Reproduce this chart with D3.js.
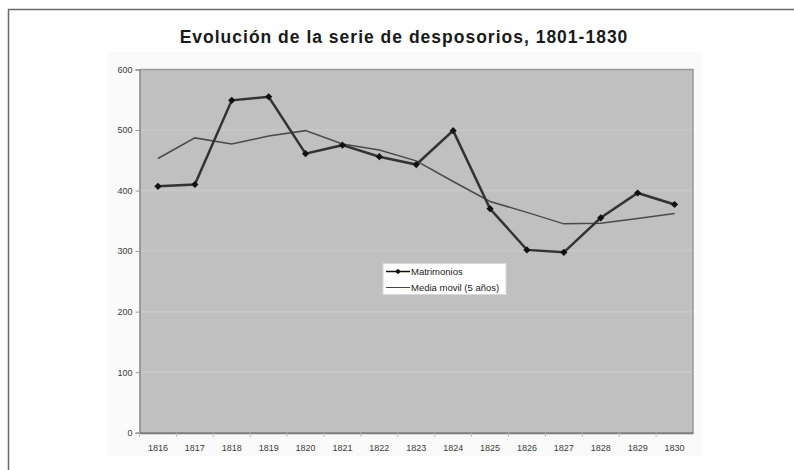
<!DOCTYPE html>
<html>
<head>
<meta charset="utf-8">
<script src="https://cdn.jsdelivr.net/npm/d3@7"></script>
<style>
  body { margin: 0; background: #fff; }
  svg { display: block; font-family: "Liberation Sans", Arial, sans-serif; }
</style>
</head>
<body>
<svg id="chart" width="794" height="470"></svg>
<script>
const years = ["1816", "1817", "1818", "1819", "1820", "1821", "1822", "1823",
  "1824", "1825", "1826", "1827", "1828", "1829", "1830"]
const matrimonios = [407, 410, 549, 555, 461, 475, 456, 443, 499, 370, 302, 298, 355, 396, 377]
const mediaMovil = [453, 487, 477, 490, 499, 477, 467, 449, 415, 382, 364, 345, 346, 354, 362]
const yTicks = [0, 100, 200, 300, 400, 500, 600]
const seriesNames = ["Matrimonios", "Media movil (5 años)"]
const title = "Evolución de la serie de desposorios, 1801-1830"

const width = 794
const height = 470
const plotLeft = 139.5
const plotRight = 693
const plotTop = 69.5
const plotBottom = 432.7

const svg = d3.select("#chart")

// outer frame (left + top)
svg.append("path")
  .attr("d", `M8.5,${height} V9.5 H${width}`)
  .attr("fill", "none")
  .attr("stroke", "#6a6a6a")
  .attr("stroke-width", 1.5)

// faint chart area
svg.append("rect")
  .attr("x", 107).attr("y", 52)
  .attr("width", 595).attr("height", 404)
  .attr("fill", "#fafafa")

svg.append("text")
  .text(title)
  .attr("x", 404)
  .attr("y", 43)
  .attr("text-anchor", "middle")
  .attr("font-size", 17.5)
  .attr("font-weight", "bold")
  .attr("letter-spacing", 1)
  .attr("fill", "#1a1a1a")

const x = d3.scaleBand()
  .domain(years)
  .range([plotLeft, plotRight])

const y = d3.scaleLinear()
  .domain([0, 600])
  .range([plotBottom, plotTop])

// plot background
svg.append("rect")
  .attr("x", plotLeft)
  .attr("y", plotTop)
  .attr("width", plotRight - plotLeft)
  .attr("height", plotBottom - plotTop)
  .attr("fill", "#c0c0c0")

// gridlines
svg.append("g")
  .selectAll("line")
  .data(yTicks.filter(d => d > 0 && d < 600))
  .join("line")
  .attr("x1", plotLeft)
  .attr("x2", plotRight)
  .attr("y1", d => y(d))
  .attr("y2", d => y(d))
  .attr("stroke", "#c9c9c9")
  .attr("stroke-width", 1.5)

// plot border (right/bottom shadow, top)
svg.append("path")
  .attr("d", `M${plotLeft},${plotTop} H${plotRight} V${plotBottom}`)
  .attr("fill", "none")
  .attr("stroke", "#999")
  .attr("stroke-width", 1.5)

// y axis
const yAxis = svg.append("g")
  .attr("transform", `translate(${plotLeft},0)`)
  .call(d3.axisLeft(y).tickValues(yTicks).tickSize(4).tickPadding(3))
yAxis.select(".domain").attr("stroke", "#8a8a8a").attr("stroke-width", 1.5)
yAxis.selectAll(".tick line").attr("stroke", "#9a9a9a")
yAxis.selectAll("text")
  .attr("font-size", 9)
  .attr("font-family", "Liberation Sans, Arial, sans-serif")
  .attr("fill", "#3a3a3a")
  .attr("dy", "0.32em")

// x axis
const xAxis = svg.append("g")
  .attr("transform", `translate(0,${plotBottom})`)
  .call(d3.axisBottom(x).tickSize(0).tickPadding(12))
xAxis.select(".domain").attr("stroke", "#7a7a7a").attr("stroke-width", 2)
xAxis.selectAll("text")
  .attr("font-size", 9)
  .attr("font-family", "Liberation Sans, Arial, sans-serif")
  .attr("fill", "#3a3a3a")

// boundary tick marks between categories
svg.append("g")
  .selectAll("line")
  .data(years)
  .join("line")
  .attr("x1", d => x(d))
  .attr("x2", d => x(d))
  .attr("y1", plotBottom)
  .attr("y2", plotBottom + 4)
  .attr("stroke", "#b8b8b8")

const cx = d => x(d) + x.bandwidth() / 2

const line = d3.line()
  .x(d => cx(d.year))
  .y(d => y(d.value))

const mediaData = years.map((yr, i) => ({year: yr, value: mediaMovil[i]}))
const matData = years.map((yr, i) => ({year: yr, value: matrimonios[i]}))

svg.append("path")
  .datum(mediaData)
  .attr("d", line)
  .attr("fill", "none")
  .attr("stroke", "#4a4a4a")
  .attr("stroke-width", 1.5)

svg.append("path")
  .datum(matData)
  .attr("d", line)
  .attr("fill", "none")
  .attr("stroke", "#333")
  .attr("stroke-width", 2.5)

const marker = d3.symbol().type(d3.symbolSquare).size(26)

svg.append("g")
  .selectAll("path")
  .data(matData)
  .join("path")
  .attr("d", marker)
  .attr("transform", d => `translate(${cx(d.year)},${y(d.value)}) rotate(45)`)
  .attr("fill", "#111")

// legend
const legend = svg.append("g").attr("transform", "translate(383,263.5)")
legend.append("rect")
  .attr("width", 123)
  .attr("height", 31)
  .attr("fill", "#fff")
  .attr("stroke", "#d8d8d8")

const rows = legend.selectAll("g.row")
  .data(seriesNames)
  .join("g")
  .attr("class", "row")
  .attr("transform", (d, i) => `translate(0,${8 + i * 16})`)

rows.append("line")
  .attr("x1", 3).attr("x2", 27)
  .attr("stroke", (d, i) => i === 0 ? "#111" : "#444")
  .attr("stroke-width", (d, i) => i === 0 ? 1.5 : 1)

rows.filter((d, i) => i === 0)
  .append("path")
  .attr("d", d3.symbol().type(d3.symbolSquare).size(16))
  .attr("transform", "translate(15,0) rotate(45)")
  .attr("fill", "#111")

rows.append("text")
  .text(d => d)
  .attr("x", 28)
  .attr("dy", "0.35em")
  .attr("font-size", 9.5)
  .attr("fill", "#222")
</script>
</body>
</html>
